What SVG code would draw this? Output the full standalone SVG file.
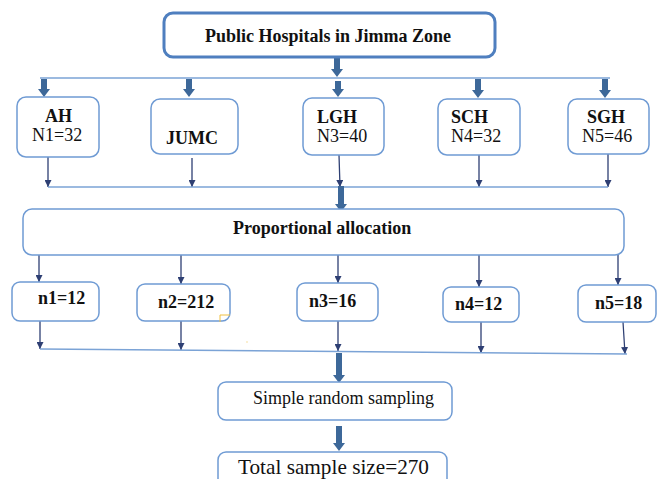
<svg xmlns="http://www.w3.org/2000/svg" width="657" height="479" viewBox="0 0 657 479">
<defs>
<style>
.box{fill:#fff;stroke:#6f9bd4;stroke-width:1.5}
.main{fill:#fff;stroke:#4f7fbf;stroke-width:3}
.bar{fill:none;stroke:#7ba3d6;stroke-width:1.5}
.thin{fill:none;stroke:#2e3f73;stroke-width:1.3;marker-end:url(#ah)}
.thick{fill:#3d6899}
text{font-family:"Liberation Serif","Times New Roman",serif;font-size:18px;fill:#111}
.b{font-weight:bold}
</style>
<marker id="ah" viewBox="0 0 10 10" refX="10" refY="5" markerWidth="7" markerHeight="7" markerUnits="userSpaceOnUse" orient="auto">
<path d="M0 0 L10 5 L0 10 Z" fill="#2e3f73"/>
</marker>
</defs>
<rect width="657" height="479" fill="#fff"/>

<g id="connectors">
<path class="thick" d="M334 57 H340 V69 H343 L337 77 L331 69 H334 Z"/>
<line class="bar" x1="40" y1="78" x2="610" y2="78"/>
<path class="thick" d="M41 79 H47 V89 H50 L44 97 L38 89 H41 Z"/>
<path class="thick" d="M186 79 H192 V89 H195 L189 97 L183 89 H186 Z"/>
<path class="thick" d="M335 81 H341 V89 H344 L338 97 L332 89 H335 Z"/>
<path class="thick" d="M475 79 H481 V90 H484 L478 98 L472 90 H475 Z"/>
<path class="thick" d="M602 79 H608 V90 H611 L605 98 L599 90 H602 Z"/>

<line class="thin" x1="48" y1="157" x2="48" y2="187"/>
<line class="thin" x1="192" y1="158" x2="192" y2="187"/>
<line class="thin" x1="339" y1="155" x2="340" y2="187"/>
<line class="thin" x1="479" y1="155" x2="479" y2="187"/>
<line class="thin" x1="608" y1="154" x2="608" y2="187"/>
<line class="bar" x1="48" y1="187" x2="608" y2="187"/>
<path class="thick" d="M338 186 H344 V204 H347 L341 212 L335 204 H338 Z"/>

<line class="thin" x1="39" y1="255" x2="39" y2="282"/>
<line class="thin" x1="181" y1="255" x2="181" y2="284"/>
<line class="thin" x1="338" y1="255" x2="338" y2="283"/>
<line class="thin" x1="479" y1="255" x2="479" y2="287"/>
<line class="thin" x1="618" y1="255" x2="618" y2="285"/>

<line class="thin" x1="40" y1="321" x2="40" y2="349"/>
<line class="thin" x1="181" y1="321" x2="181" y2="350"/>
<line class="thin" x1="338" y1="321" x2="338" y2="351"/>
<line class="thin" x1="481" y1="322" x2="481" y2="353"/>
<line class="thin" x1="623" y1="322" x2="625" y2="354"/>
<line class="bar" x1="40" y1="349" x2="627" y2="354"/>
<path class="thick" d="M336 353 H342 V375 H345 L339 383 L333 375 H336 Z"/>
<path class="thick" d="M336 426 H342 V443 H345 L339 451 L333 443 H336 Z"/>
</g>

<g id="n-public">
<rect class="main" x="164" y="13" width="331" height="44" rx="9"/>
<text class="b" x="205" y="42">Public Hospitals in Jimma Zone</text>
</g>

<g id="n-ah">
<rect class="box" x="17" y="97" width="82" height="60" rx="9"/>
<text class="b" x="45" y="122">AH</text>
<text x="32" y="141">N1=32</text>
</g>
<g id="n-jumc">
<rect class="box" x="151" y="99" width="87" height="55" rx="9"/>
<text class="b" x="166" y="144">JUMC</text>
</g>
<g id="n-lgh">
<rect class="box" x="303" y="98" width="81" height="57" rx="9"/>
<text class="b" x="317" y="123">LGH</text>
<text x="317" y="142">N3=40</text>
</g>
<g id="n-sch">
<rect class="box" x="438" y="99" width="82" height="56" rx="9"/>
<text class="b" x="451" y="123">SCH</text>
<text x="451" y="142">N4=32</text>
</g>
<g id="n-sgh">
<rect class="box" x="568" y="99" width="81" height="55" rx="9"/>
<text class="b" x="587" y="123">SGH</text>
<text x="582" y="142">N5=46</text>
</g>

<g id="n-prop">
<rect class="box" x="23" y="209" width="601" height="46" rx="9"/>
<text class="b" x="233" y="234">Proportional allocation</text>
</g>

<g id="n-n1">
<rect class="box" x="12" y="282" width="87" height="39" rx="8"/>
<text class="b" x="38" y="304">n1=12</text>
</g>
<g id="n-n2">
<rect class="box" x="137" y="284" width="93" height="37" rx="8"/>
<text class="b" x="158" y="308">n2=212</text>
<path d="M220 322 V315 H230" fill="none" stroke="#f0c040" stroke-width="1"/>
<rect x="246.5" y="341.5" width="1" height="1" fill="#f0c040"/>
</g>
<g id="n-n3">
<rect class="box" x="297" y="283" width="81" height="38" rx="8"/>
<text class="b" x="309" y="307">n3=16</text>
</g>
<g id="n-n4">
<rect class="box" x="443" y="287" width="76" height="35" rx="8"/>
<text class="b" x="455" y="310">n4=12</text>
</g>
<g id="n-n5">
<rect class="box" x="578" y="285" width="78" height="37" rx="8"/>
<text class="b" x="595" y="309">n5=18</text>
</g>

<g id="n-srs">
<rect class="box" x="218" y="382" width="234" height="38" rx="8"/>
<text x="253" y="404">Simple random sampling</text>
</g>

<g id="n-total">
<rect class="box" x="218" y="452" width="229" height="40" rx="8"/>
<text x="238" y="474" style="font-size:22px" textLength="191" lengthAdjust="spacingAndGlyphs">Total sample size=270</text>
</g>
</svg>
